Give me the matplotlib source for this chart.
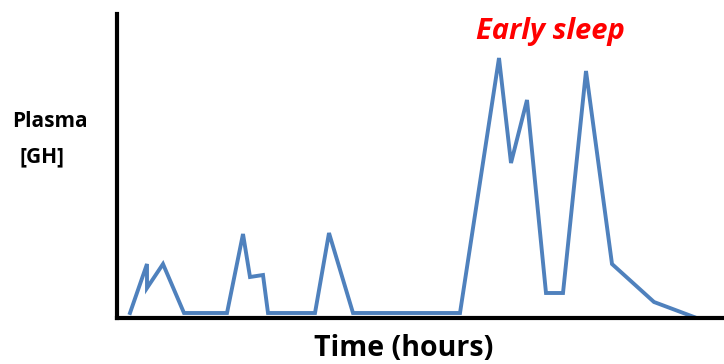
import matplotlib
matplotlib.use("Agg")
import matplotlib.pyplot as plt

# sampled GH trace (time in arbitrary units, level in arbitrary units)
time = [13, 30, 30, 46, 67, 110, 126, 133, 146, 151, 198, 212, 236, 343,
        382, 394, 410, 429, 446, 469, 495, 537, 577]
level = [5, 54, 30, 54, 5, 5, 84, 41, 43, 5, 5, 85, 5, 5,
         260, 155, 218, 25, 25, 247, 54, 16, 1]

W, H = 724, 364
fig = plt.figure(figsize=(W / 100, H / 100), dpi=100)
ax = fig.add_axes([117 / W, (H - 318) / H, (W - 117) / W, (318 - 14) / H])
ax.plot(time, level, color="#4F81BD", lw=2.8, solid_joinstyle="miter")
ax.set_xlim(0, W - 117)
ax.set_ylim(0, 318 - 14)
for s in ("top", "right"):
    ax.spines[s].set_visible(False)
for s in ("left", "bottom"):
    ax.spines[s].set_linewidth(3)
    ax.spines[s].set_color("black")
ax.set_xticks([]); ax.set_yticks([])
ax.set_facecolor("none")

fnt = ["Open Sans", "DejaVu Sans"]
fig.text(50 / W, 1 - 122 / H, "Plasma", ha="center", va="center", fontsize=15, fontweight="bold", family=fnt)
fig.text(42 / W, 1 - 157 / H, "[GH]", ha="center", va="center", fontsize=15, fontweight="bold", family=fnt)
fig.text(550 / W, 1 - 31 / H, "Early sleep", ha="center", va="center", fontsize=21, fontweight="bold",
         fontstyle="italic", color="#FF0000", family=fnt)
fig.text(404 / W, 1 - 348 / H, "Time (hours)", ha="center", va="center", fontsize=20.5, fontweight="bold", family=fnt)

fig.savefig("out.png", dpi=100)
